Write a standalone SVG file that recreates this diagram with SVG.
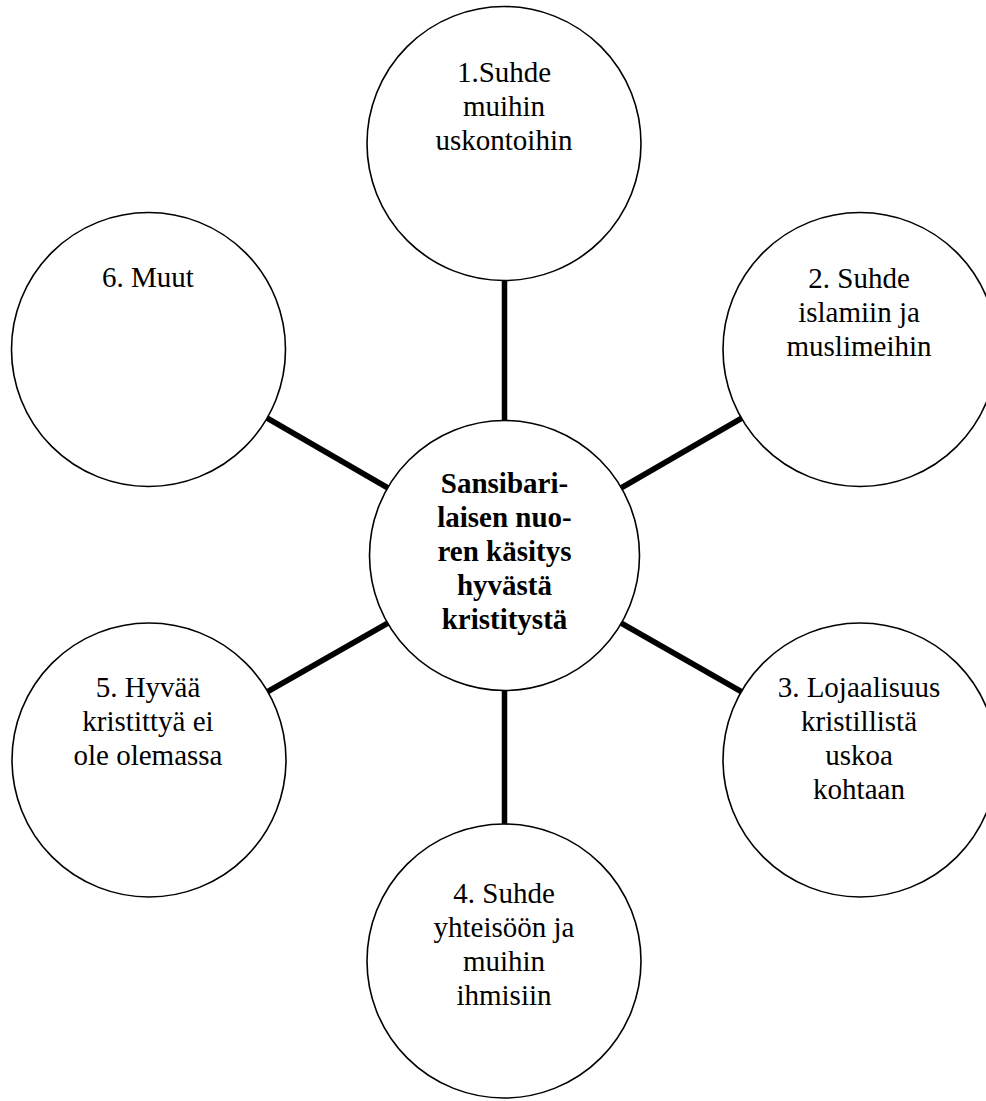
<svg xmlns="http://www.w3.org/2000/svg" width="986" height="1101" viewBox="0 0 986 1101">
  <style>
    .node { fill: #ffffff; stroke: #000000; stroke-width: 1.6; }
    .link { stroke: #000000; stroke-width: 5.5; stroke-linecap: butt; }
    .label { font-family: "Liberation Serif", "Times New Roman", serif; font-size: 29px; fill: #000000; text-anchor: middle; }
    .hub { font-weight: bold; }
  </style>
  <rect x="0" y="0" width="986" height="1101" fill="#ffffff"/>

  <!-- spokes from the hub to each topic -->
  <g id="connectors">
    <line class="link" x1="504.5" y1="280" x2="504.5" y2="421"/>
    <line class="link" x1="621" y1="488" x2="742" y2="418"/>
    <line class="link" x1="621" y1="623" x2="742" y2="692"/>
    <line class="link" x1="504.5" y1="690" x2="504.5" y2="824"/>
    <line class="link" x1="388" y1="623" x2="267" y2="692"/>
    <line class="link" x1="388" y1="488" x2="267" y2="418"/>
  </g>

  <g id="hub">
    <circle class="node" cx="504.5" cy="555.5" r="135"/>
    <text class="label hub" x="504.5" y="493">Sansibari-</text>
    <text class="label hub" x="504.5" y="527">laisen nuo-</text>
    <text class="label hub" x="504.5" y="561">ren käsitys</text>
    <text class="label hub" x="504.5" y="595">hyvästä</text>
    <text class="label hub" x="504.5" y="629">kristitystä</text>
  </g>

  <g id="topic1">
    <circle class="node" cx="504" cy="143.5" r="137"/>
    <text class="label" x="504" y="82">1.Suhde</text>
    <text class="label" x="504" y="116">muihin</text>
    <text class="label" x="504" y="150">uskontoihin</text>
  </g>

  <g id="topic2">
    <circle class="node" cx="860" cy="349.5" r="137"/>
    <text class="label" x="859" y="288">2. Suhde</text>
    <text class="label" x="859" y="322">islamiin ja</text>
    <text class="label" x="859" y="356">muslimeihin</text>
  </g>

  <g id="topic3">
    <circle class="node" cx="860" cy="760" r="137"/>
    <text class="label" x="859" y="697">3. Lojaalisuus</text>
    <text class="label" x="859" y="731">kristillistä</text>
    <text class="label" x="859" y="765">uskoa</text>
    <text class="label" x="859" y="799">kohtaan</text>
  </g>

  <g id="topic4">
    <circle class="node" cx="504" cy="961" r="137"/>
    <text class="label" x="504" y="903">4. Suhde</text>
    <text class="label" x="504" y="937">yhteisöön ja</text>
    <text class="label" x="504" y="971">muihin</text>
    <text class="label" x="504" y="1005">ihmisiin</text>
  </g>

  <g id="topic5">
    <circle class="node" cx="149" cy="760" r="137"/>
    <text class="label" x="148" y="697">5. Hyvää</text>
    <text class="label" x="148" y="731">kristittyä ei</text>
    <text class="label" x="148" y="765">ole olemassa</text>
  </g>

  <g id="topic6">
    <circle class="node" cx="148.5" cy="349.5" r="137"/>
    <text class="label" x="148" y="287">6. Muut</text>
  </g>
</svg>
